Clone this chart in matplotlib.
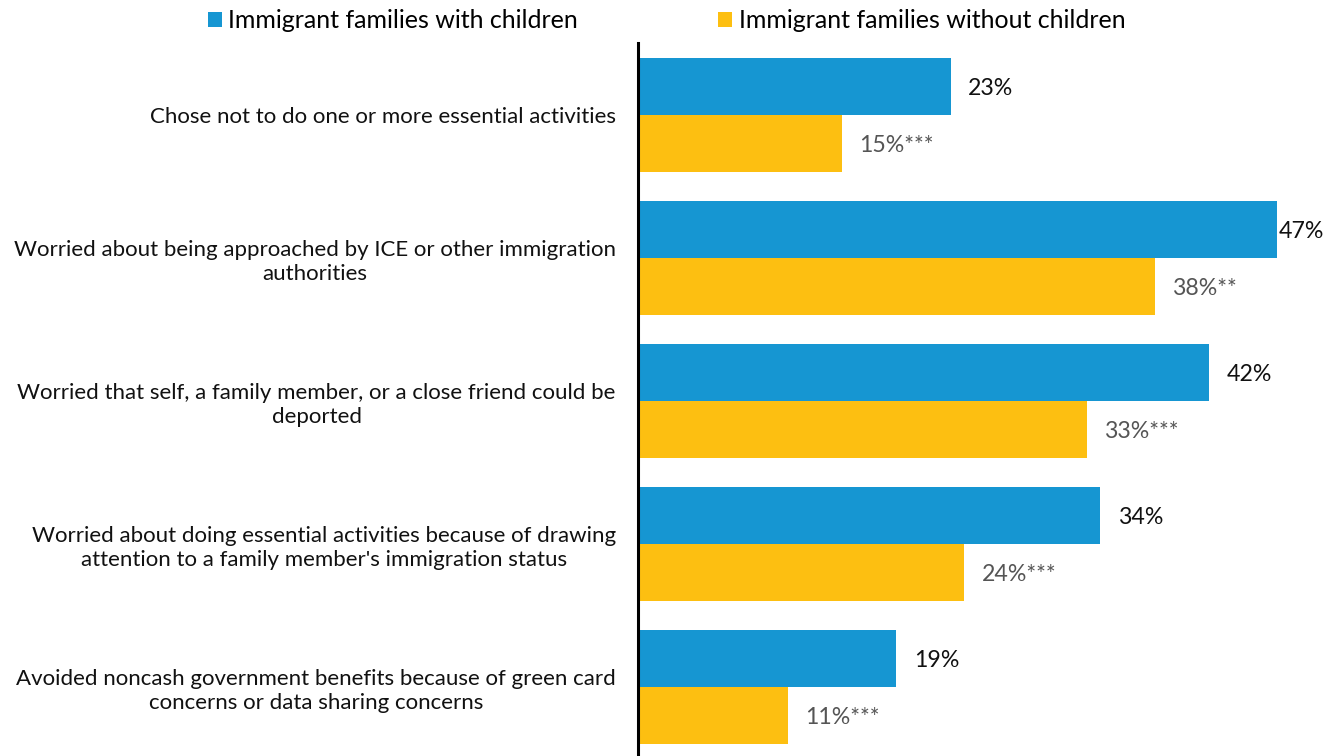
import matplotlib
matplotlib.use("Agg")
import matplotlib.pyplot as plt
import numpy as np

plt.rcParams["font.family"] = ["Lato", "DejaVu Sans"]

categories = [
    "Chose not to do one or more essential activities",
    "Worried about being approached by ICE or other immigration\nauthorities",
    "Worried that self, a family member, or a close friend could be\ndeported",
    "Worried about doing essential activities because of drawing\nattention to a family member's immigration status",
    "Avoided noncash government benefits because of green card\nconcerns or data sharing concerns",
]
series_names = ["Immigrant families with children", "Immigrant families without children"]
with_children = [23, 47, 42, 34, 19]
without_children = [15, 38, 33, 24, 11]
significance = ["***", "**", "***", "***", "***"]

BLUE = "#1696D2"
YELLOW = "#FDBF11"
LABEL_GRAY = "#555555"

W, H, DPI = 1340, 756, 100
fig = plt.figure(figsize=(W / DPI, H / DPI), dpi=DPI)
# plot area: left edge at the vertical axis line, groups fill the height below the legend
ax = fig.add_axes([638 / W, (H - 758.5) / H, (W - 638) / W, (758.5 - 43.5) / H])

n = len(categories)
y = np.arange(n)
h = 0.4
ax.barh(y - h / 2, with_children, height=h, color=BLUE, label=series_names[0])
ax.barh(y + h / 2, without_children, height=h, color=YELLOW, label=series_names[1])

ax.set_xlim(0, (W - 638) / 13.6)
ax.set_ylim(n - 0.5, -0.5)
ax.set_yticks(y)
ax.set_yticklabels(categories, fontsize=16, multialignment="center",
                   linespacing=1.25, color="#111111")
ax.tick_params(axis="y", length=0, pad=16)
ax.set_xticks([])
for s in ["top", "right", "bottom"]:
    ax.spines[s].set_visible(False)
ax.spines["left"].set_linewidth(2.2)
ax.spines["left"].set_color("black")

fig.canvas.draw()
renderer = fig.canvas.get_renderer()
xmax_px = ax.transData.transform((ax.get_xlim()[1], 0))[0]


def place(value, ypos, text, color):
    t = ax.annotate(text, (value, ypos), xytext=(12.5, -1.5), textcoords="offset points",
                    va="center", ha="left", fontsize=16.7, color=color)
    bb = t.get_window_extent(renderer)
    # labels that would crowd the right edge sit right against the bar end
    if bb.x1 > xmax_px - 12:
        t.set_position((1, -1.5))
    return t


for i in range(n):
    place(with_children[i], y[i] - h / 2, f"{with_children[i]}%", "#111111")
    place(without_children[i], y[i] + h / 2, f"{without_children[i]}%{significance[i]}", LABEL_GRAY)

fig.legend(loc="center", bbox_to_anchor=(666.5 / W, 1 - 21 / H), ncol=2, frameon=False,
           fontsize=18, handlelength=0.57, handleheight=0.57, handletextpad=0.25,
           columnspacing=5.6, borderaxespad=0)

fig.savefig("out.png", dpi=DPI)
